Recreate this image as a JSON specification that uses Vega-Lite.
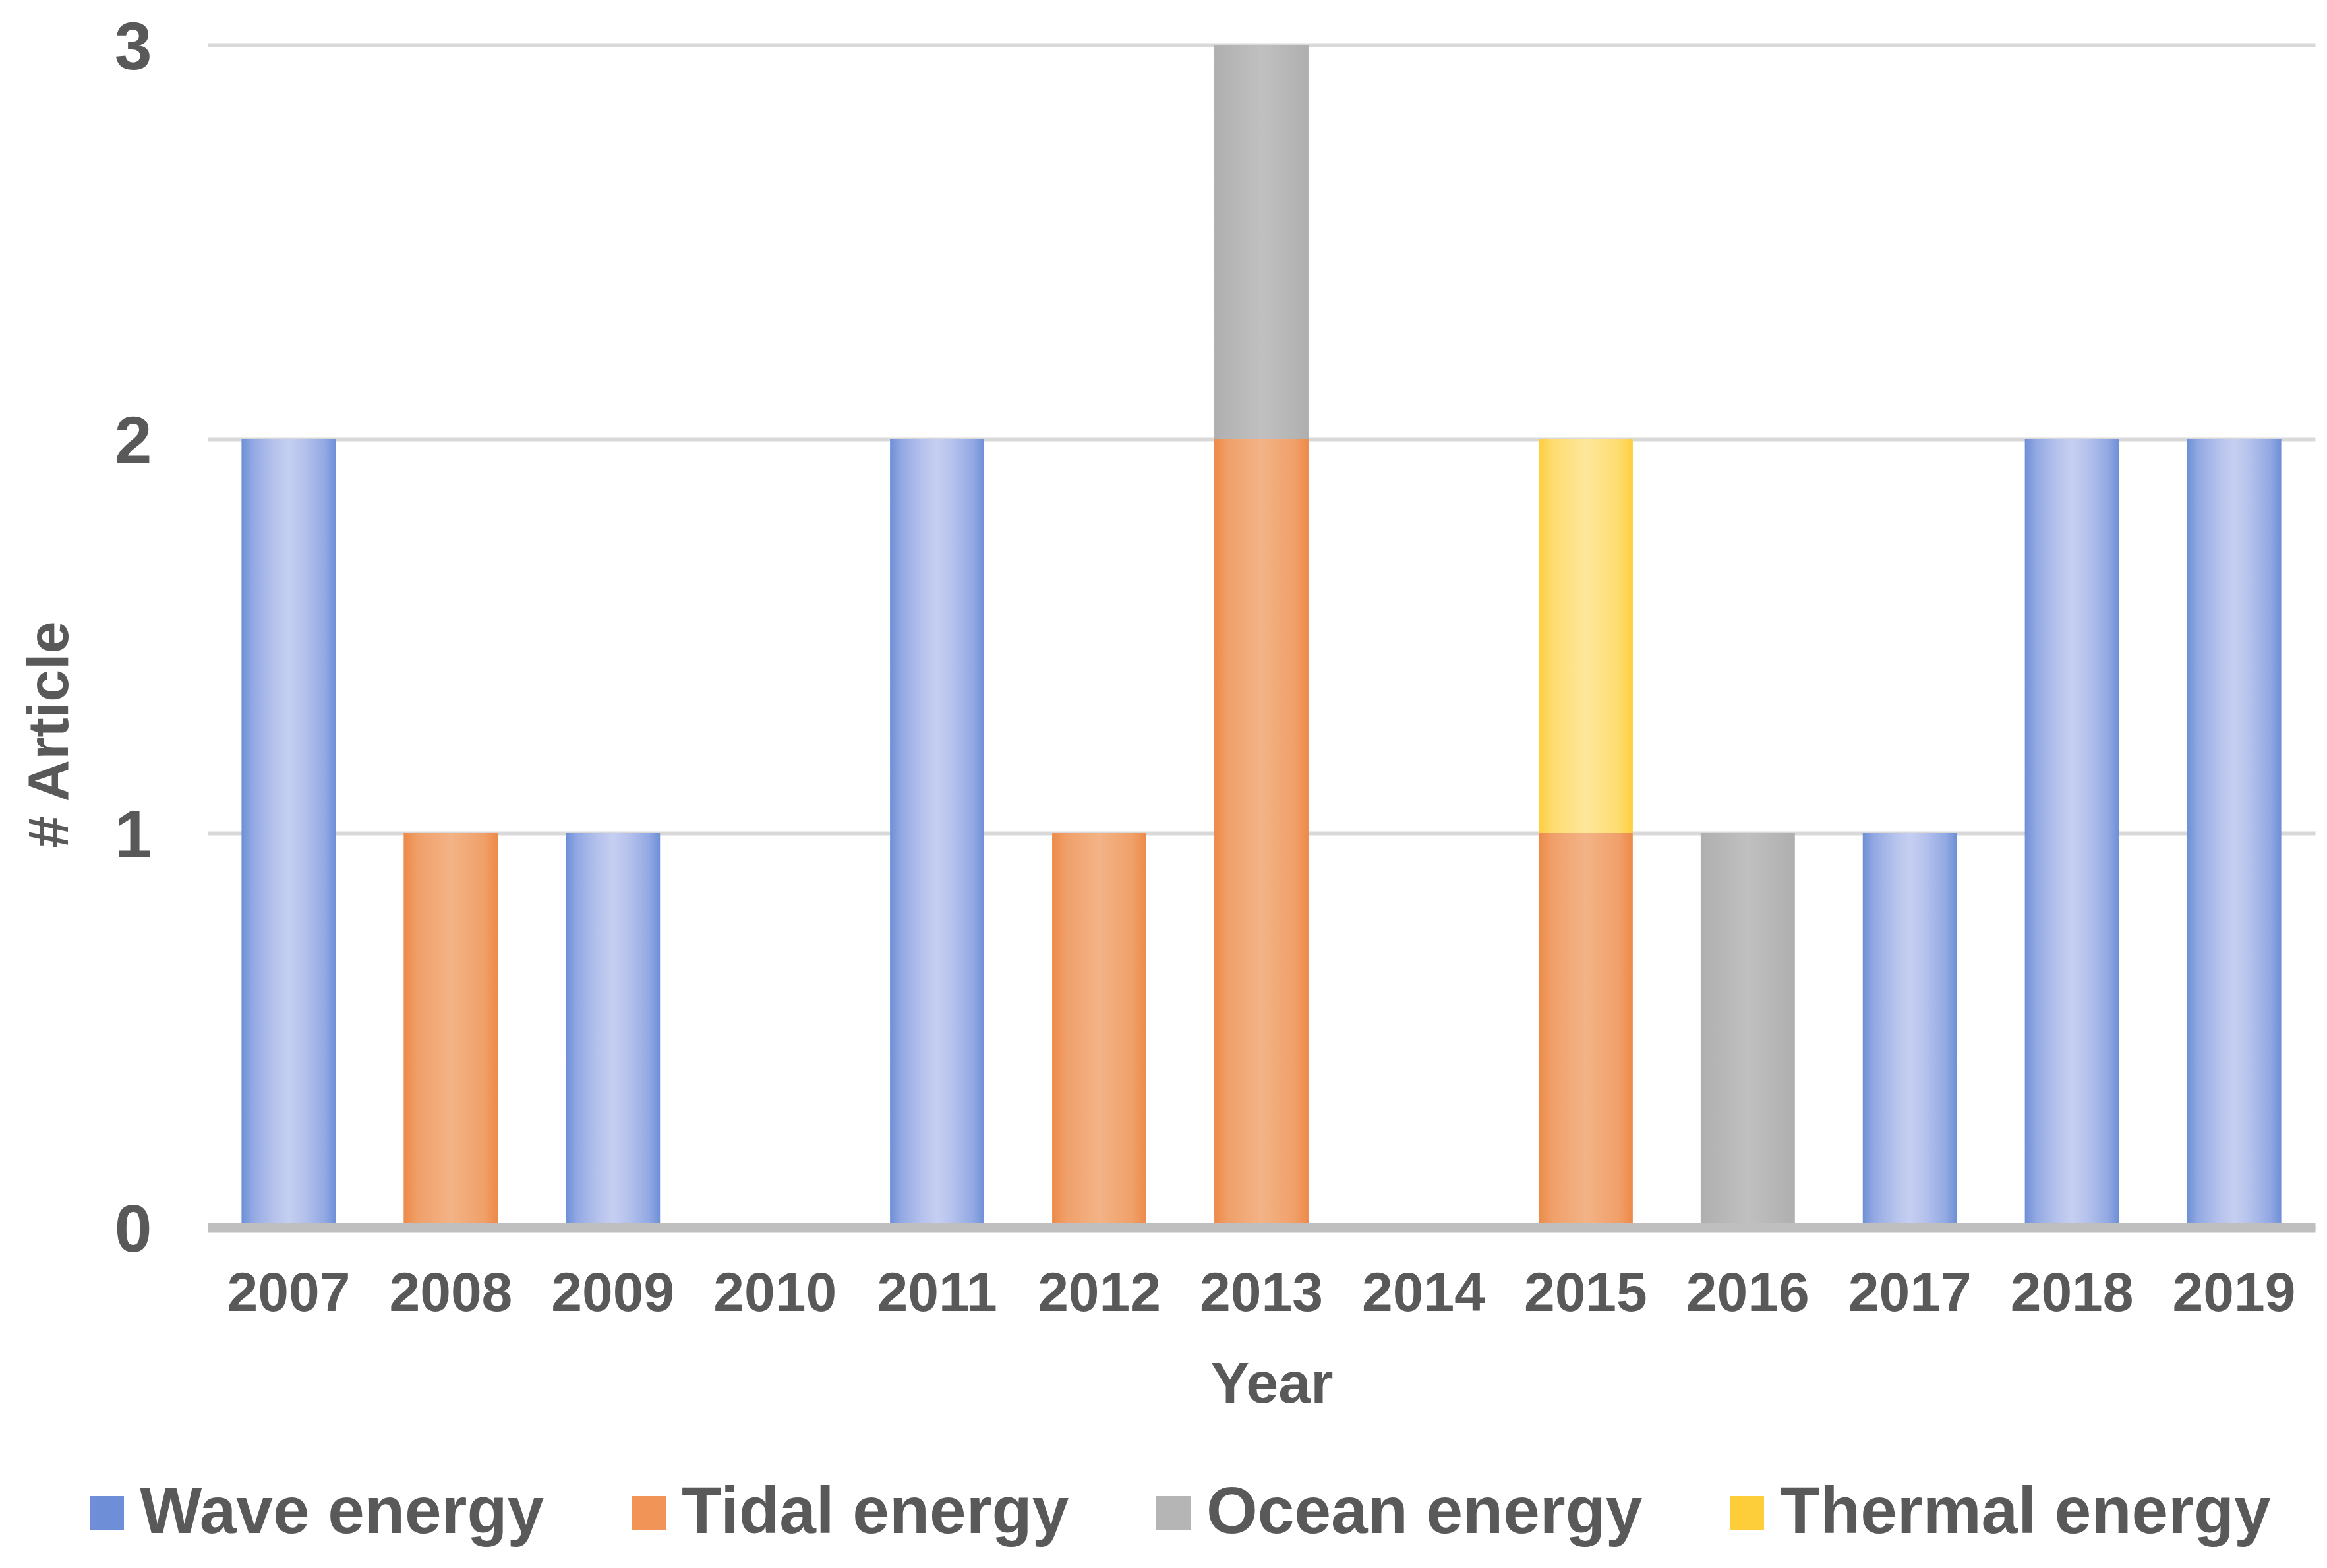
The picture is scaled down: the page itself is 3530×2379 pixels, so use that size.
{
  "$schema": "https://vega.github.io/schema/vega-lite/v6.json",
  "width": 3197,
  "height": 1794,
  "autosize": {"type": "none"},
  "padding": {"left": 315, "top": 68, "right": 18, "bottom": 517},
  "background": "white",
  "config": {"view": {"stroke": null}, "font": "Liberation Sans"},
  "data": {
    "values": [
      {"year": "2007", "type": "Wave energy", "articles": 2},
      {"year": "2008", "type": "Tidal energy", "articles": 1},
      {"year": "2009", "type": "Wave energy", "articles": 1},
      {"year": "2011", "type": "Wave energy", "articles": 2},
      {"year": "2012", "type": "Tidal energy", "articles": 1},
      {"year": "2013", "type": "Tidal energy", "articles": 2},
      {"year": "2013", "type": "Ocean energy", "articles": 1},
      {"year": "2015", "type": "Tidal energy", "articles": 1},
      {"year": "2015", "type": "Thermal energy", "articles": 1},
      {"year": "2016", "type": "Ocean energy", "articles": 1},
      {"year": "2017", "type": "Wave energy", "articles": 1},
      {"year": "2018", "type": "Wave energy", "articles": 2},
      {"year": "2019", "type": "Wave energy", "articles": 2}
    ]
  },
  "encoding": {
    "x": {
      "field": "year",
      "type": "ordinal",
      "scale": {
        "domain": ["2007", "2008", "2009", "2010", "2011", "2012", "2013", "2014", "2015", "2016", "2017", "2018", "2019"],
        "paddingInner": 0.42,
        "paddingOuter": 0.21
      },
      "axis": {
        "title": "Year",
        "zindex": 1,
        "domain": true,
        "domainColor": "#bfbfbf",
        "domainWidth": 14,
        "ticks": false,
        "tickSize": 0,
        "grid": false,
        "labelAngle": 0,
        "labelFont": "Liberation Sans",
        "labelFontSize": 84,
        "labelFontWeight": "bold",
        "labelColor": "#595959",
        "labelPadding": 126,
        "labelBaseline": "alphabetic",
        "labelOverlap": false,
        "labelLimit": 1000,
        "titleFont": "Liberation Sans",
        "titleFontSize": 88,
        "titleFontWeight": "bold",
        "titleColor": "#595959",
        "titleX": 1614,
        "titleY": 265,
        "titleBaseline": "alphabetic",
        "titleAlign": "center"
      }
    },
    "y": {
      "type": "quantitative",
      "scale": {"domain": [0, 3], "nice": false},
      "axis": {
        "title": "# Article",
        "values": [0, 1, 2, 3],
        "grid": true,
        "gridColor": "#d9d9d9",
        "gridWidth": 6,
        "domain": false,
        "ticks": false,
        "tickSize": 0,
        "labelFont": "Liberation Sans",
        "labelFontSize": 102,
        "labelFontWeight": "bold",
        "labelColor": "#595959",
        "labelPadding": 85,
        "labelBaseline": "alphabetic",
        "labelOffset": 36,
        "labelFlush": false,
        "labelOverlap": false,
        "titleFont": "Liberation Sans",
        "titleFontSize": 88,
        "titleFontWeight": "bold",
        "titleColor": "#595959",
        "titleX": -213,
        "titleY": 1046,
        "titleAngle": -90,
        "titleBaseline": "alphabetic",
        "titleAlign": "center"
      }
    }
  },
  "layer": [
    {
      "mark": {"type": "bar", "strokeWidth": 0},
      "encoding": {
        "y": {"field": "articles", "type": "quantitative", "stack": "zero"},
        "color": {
          "field": "type",
          "type": "nominal",
          "scale": {
            "domain": ["Wave energy", "Tidal energy", "Ocean energy", "Thermal energy"],
            "range": ["#6e8fd7", "#f09457", "#b5b5b5", "#fecd3a"]
          },
          "legend": {
            "title": null,
            "orient": "none",
            "legendX": -203,
            "legendY": 2178,
            "direction": "horizontal",
            "padding": 0,
            "symbolType": "square",
            "symbolSize": 2704,
            "symbolStrokeWidth": 0,
            "symbolOpacity": 1,
            "labelFont": "Liberation Sans",
            "labelFontSize": 100,
            "labelFontWeight": "bold",
            "labelColor": "#595959",
            "labelOffset": 0,
            "labelLimit": 2000,
            "columnPadding": 108
          }
        },
        "order": {"field": "type", "sort": "descending"}
      }
    },
    {
      "transform": [
        {"stack": "articles", "groupby": ["year"], "sort": [{"field": "type", "order": "descending"}], "as": ["y0", "y1"]},
        {"filter": "datum.type === 'Wave energy'"}
      ],
      "mark": {"type": "bar", "strokeWidth": 0, "color": {"gradient": "linear", "x1": 0, "y1": 0, "x2": 1, "y2": 0, "stops": [
        {"offset": 0, "color": "#6e8fd7"},
        {"offset": 0.12, "color": "#93a9e3"},
        {"offset": 0.35, "color": "#b7c3ed"},
        {"offset": 0.5, "color": "#c5cff1"},
        {"offset": 0.65, "color": "#b7c3ed"},
        {"offset": 0.88, "color": "#93a9e3"},
        {"offset": 1, "color": "#6e8fd7"}
      ]}},
      "encoding": {
        "y": {"field": "y0", "type": "quantitative"},
        "y2": {"field": "y1"}
      }
    },
    {
      "transform": [
        {"stack": "articles", "groupby": ["year"], "sort": [{"field": "type", "order": "descending"}], "as": ["y0", "y1"]},
        {"filter": "datum.type === 'Tidal energy'"}
      ],
      "mark": {"type": "bar", "strokeWidth": 0, "color": {"gradient": "linear", "x1": 0, "y1": 0, "x2": 1, "y2": 0, "stops": [
        {"offset": 0, "color": "#ed8a48"},
        {"offset": 0.15, "color": "#f0a06a"},
        {"offset": 0.5, "color": "#f3b386"},
        {"offset": 0.85, "color": "#f0a06a"},
        {"offset": 1, "color": "#ed8a48"}
      ]}},
      "encoding": {
        "y": {"field": "y0", "type": "quantitative"},
        "y2": {"field": "y1"}
      }
    },
    {
      "transform": [
        {"stack": "articles", "groupby": ["year"], "sort": [{"field": "type", "order": "descending"}], "as": ["y0", "y1"]},
        {"filter": "datum.type === 'Ocean energy'"}
      ],
      "mark": {"type": "bar", "strokeWidth": 0, "color": {"gradient": "linear", "x1": 0, "y1": 0, "x2": 1, "y2": 0, "stops": [
        {"offset": 0, "color": "#afafaf"},
        {"offset": 0.5, "color": "#c0c0c0"},
        {"offset": 1, "color": "#afafaf"}
      ]}},
      "encoding": {
        "y": {"field": "y0", "type": "quantitative"},
        "y2": {"field": "y1"}
      }
    },
    {
      "transform": [
        {"stack": "articles", "groupby": ["year"], "sort": [{"field": "type", "order": "descending"}], "as": ["y0", "y1"]},
        {"filter": "datum.type === 'Thermal energy'"}
      ],
      "mark": {"type": "bar", "strokeWidth": 0, "color": {"gradient": "linear", "x1": 0, "y1": 0, "x2": 1, "y2": 0, "stops": [
        {"offset": 0, "color": "#fdcf3e"},
        {"offset": 0.15, "color": "#fedc70"},
        {"offset": 0.5, "color": "#fee79c"},
        {"offset": 0.85, "color": "#fedc70"},
        {"offset": 1, "color": "#fdcf3e"}
      ]}},
      "encoding": {
        "y": {"field": "y0", "type": "quantitative"},
        "y2": {"field": "y1"}
      }
    }
  ]
}
